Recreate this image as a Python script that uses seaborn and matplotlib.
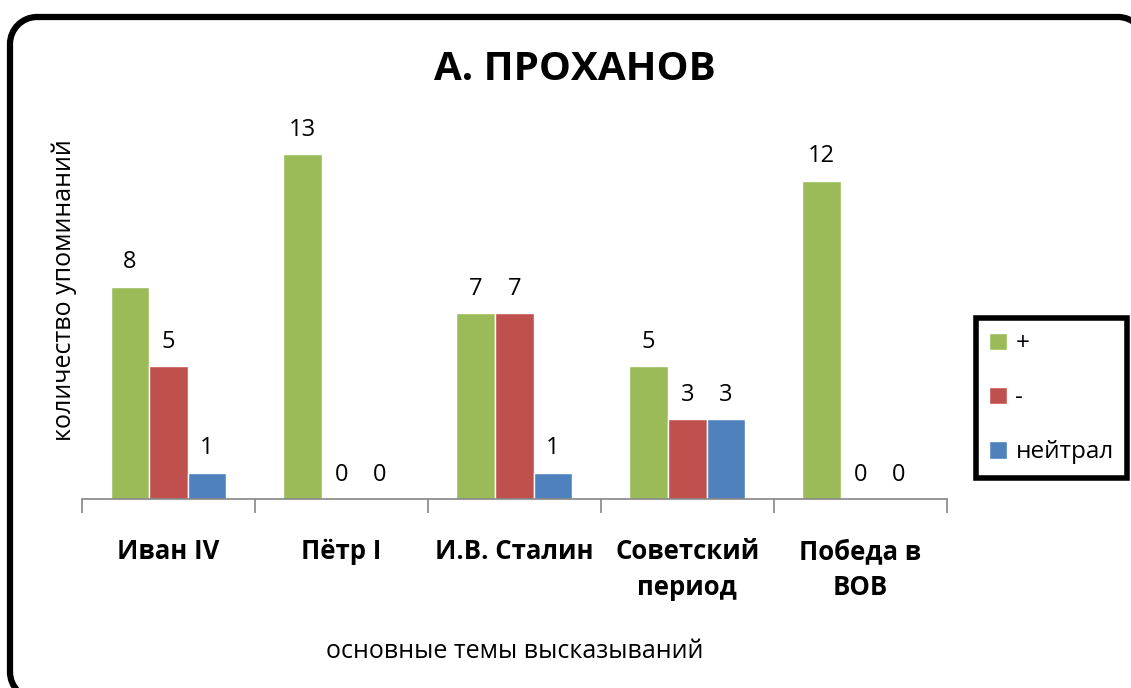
import numpy as np
import pandas as pd
import matplotlib.pyplot as plt
import seaborn as sns
from matplotlib.path import Path
from matplotlib.patches import PathPatch

categories = ["Иван IV", "Пётр I", "И.В. Сталин", "Советский\nпериод", "Победа в\nВОВ"]
series = ["+", "-", "нейтрал"]
plus_vals = [8, 13, 7, 5, 12]
minus_vals = [5, 0, 7, 3, 0]
neutral_vals = [1, 0, 1, 3, 0]
colors = ["#9BBB59", "#C0504D", "#4F81BD"]

data = pd.DataFrame({
    "тема": categories * 3,
    "серия": [s for s in series for _ in categories],
    "значение": plus_vals + minus_vals + neutral_vals,
})

sns.set_style("white")
plt.rcParams["font.family"] = ["Open Sans", "DejaVu Sans"]
plt.rcParams["text.color"] = "black"
plt.rcParams["axes.labelcolor"] = "black"
plt.rcParams["xtick.color"] = "black"

fig = plt.figure(figsize=(11.31, 6.88), dpi=100)
ax = fig.add_axes([0.0725, 0.2747, 0.7645, 0.5393])

sns.barplot(data=data, x="тема", y="значение", hue="серия", palette=colors,
            width=0.67, saturation=1, ax=ax, legend=True)

for cont in ax.containers:
    ax.bar_label(cont, fmt="%g", padding=9, fontsize=17)

ax.set_ylim(0, 14)
ax.set_xlim(-0.5, len(categories) - 0.5)
ax.set_yticks([])
for s in ["top", "right", "left"]:
    ax.spines[s].set_visible(False)
ax.spines["bottom"].set_color("#868686")
ax.spines["bottom"].set_linewidth(1.2)

ax.set_xticks(range(len(categories)))
ax.set_xticklabels(categories, fontsize=18.5, fontweight="bold", linespacing=1.45)
ax.tick_params(axis="x", which="major", length=0, pad=28, colors="black")
ax.set_xticks(np.arange(-0.5, len(categories)), minor=True)
ax.tick_params(axis="x", which="minor", length=10, color="#868686", width=1.2, direction="out", bottom=True)

ax.set_xlabel("основные темы высказываний", fontsize=18, labelpad=27)
ax.set_ylabel("количество упоминаний", fontsize=18)
ax.yaxis.set_label_coords(-0.006, 0.563)

fig.text(0.508, 1 - 70 / 688, "А. ПРОХАНОВ", ha="center", va="center",
         fontsize=29, fontweight="bold")

handles, labels = ax.get_legend_handles_labels()
leg = ax.legend(handles, labels, loc="center left", bbox_to_anchor=(1.034, 0.272),
                borderaxespad=0, fontsize=17.5, frameon=True, fancybox=False,
                framealpha=1, handlelength=0.72, handleheight=0.72, handletextpad=0.35,
                labelspacing=1.25, borderpad=0.55)
leg.get_frame().set_edgecolor("black")
leg.get_frame().set_linewidth(4)

# outer rounded border (only the parts that fall inside the picture), pixel coords
over = fig.add_axes([0, 0, 1, 1], zorder=-1)
over.set_xlim(0, 1131)
over.set_ylim(688, 0)
over.axis("off")
L, T, R, B, r = 10, 17, 1145, 699, 27
k = 0.5523 * r
verts = [(L + r + 40, B), (L + r, B),
         (L + r - k, B), (L, B - r + k), (L, B - r),
         (L, T + r),
         (L, T + r - k), (L + r - k, T), (L + r, T),
         (R - r, T),
         (R - r + k, T), (R, T + r - k), (R, T + r)]
codes = [Path.MOVETO, Path.LINETO,
         Path.CURVE4, Path.CURVE4, Path.CURVE4,
         Path.LINETO,
         Path.CURVE4, Path.CURVE4, Path.CURVE4,
         Path.LINETO,
         Path.CURVE4, Path.CURVE4, Path.CURVE4]
over.add_patch(PathPatch(Path(verts, codes), fill=False, edgecolor="black",
                         linewidth=4.5, clip_on=False))

fig.savefig("out.png", dpi=100)
